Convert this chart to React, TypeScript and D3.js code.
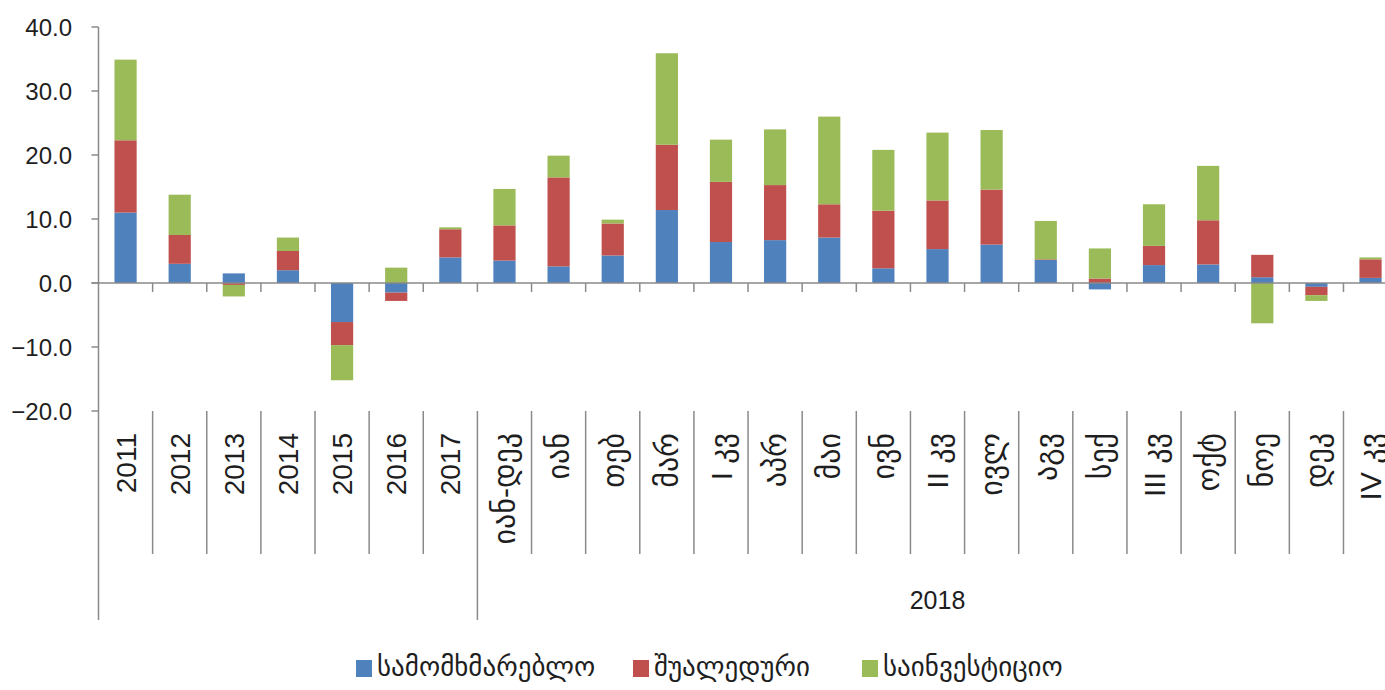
import React from "react";
import * as d3 from "d3";

// Contributions to growth by component (percentage points)
const categories = [
  "2011", "2012", "2013", "2014", "2015", "2016", "2017",
  "იან-დეკ", "იან", "თებ", "მარ", "I კვ", "აპრ", "მაი", "ივნ", "II კვ",
  "ივლ", "აგვ", "სექ", "III კვ", "ოქტ", "ნოე", "დეკ", "IV კვ",
];

const seriesNames = ["სამომხმარებლო", "შუალედური", "საინვესტიციო"];
const seriesColors = ["#4F81BD", "#C0504D", "#9BBB59"];

const consumer = [
  11.0, 3.0, 1.5, 2.0, -6.1, -1.5, 4.0,
  3.5, 2.6, 4.3, 11.4, 6.4, 6.7, 7.1, 2.3, 5.3,
  6.0, 3.6, -1.0, 2.8, 2.9, 0.9, -0.6, 0.8,
];
const intermediate = [
  11.3, 4.5, -0.3, 3.0, -3.6, -1.3, 4.4,
  5.5, 13.9, 5.0, 10.2, 9.4, 8.6, 5.2, 9.0, 7.6,
  8.6, 0.1, 0.7, 3.0, 6.9, 3.5, -1.3, 2.9,
];
const investment = [
  12.6, 6.3, -1.8, 2.1, -5.5, 2.4, 0.3,
  5.7, 3.4, 0.6, 14.3, 6.6, 8.7, 13.7, 9.5, 10.6,
  9.3, 6.0, 4.7, 6.5, 8.5, -6.3, -0.9, 0.3,
];

const yTicks = [-20, -10, 0, 10, 20, 30, 40];

// Category groups shown on the second row of the axis
const groups = [
  { label: "", from: 0, to: 7 },
  { label: "2018", from: 7, to: 24 },
];

const W = 1385;
const H = 690;
const FONT = "'Liberation Sans', Arial, 'DejaVu Sans', sans-serif";
const AXIS = "#8a8a8a";

export default function App() {
  const x0 = 98.5;
  const x1 = 1397.6;
  const yTop = 27;
  const yBottom = 411;

  const xBand = d3
    .scaleBand<string>()
    .domain(categories)
    .range([x0, x1])
    .paddingInner(0.59)
    .paddingOuter(0.295);
  const step = xBand.step();
  const boundary = (i: number) => x0 + i * step;

  const y = d3.scaleLinear().domain([-20, 40]).range([yBottom, yTop]);

  const rows = categories.map((c, i) => ({
    cat: c,
    s0: consumer[i],
    s1: intermediate[i],
    s2: investment[i],
  }));
  const stacked = d3
    .stack<any>()
    .keys(["s0", "s1", "s2"])
    .offset(d3.stackOffsetDiverging)(rows);

  const zeroY = y(0);
  const labelTop = 433;
  const sepBottom = 554;
  const groupBottom = 620;

  const legendItems = [
    { x: 356, idx: 0 },
    { x: 633, idx: 1 },
    { x: 862, idx: 2 },
  ];

  // Year labels are pure digits; month/quarter labels use Georgian glyphs
  const isYear = (s: string) => /^[0-9]+$/.test(s);

  return (
    <svg
      width={W}
      height={H}
      style={{ position: "absolute", left: 0, top: 0, background: "#fff" }}
      fontFamily={FONT}
    >
      {/* stacked bars */}
      {stacked.map((layer, si) => (
        <g key={si} fill={seriesColors[si]}>
          {layer.map((d, i) => {
            const top = y(Math.max(d[0], d[1]));
            const bot = y(Math.min(d[0], d[1]));
            if (bot - top < 0.01) return null;
            return (
              <rect
                key={i}
                x={xBand(categories[i])}
                y={top}
                width={xBand.bandwidth()}
                height={bot - top}
              />
            );
          })}
        </g>
      ))}

      {/* value axis */}
      <line x1={x0} x2={x0} y1={yTop} y2={groupBottom} stroke={AXIS} strokeWidth={1.5} />
      {yTicks.map((t) => (
        <g key={t}>
          <line x1={x0 - 7} x2={x0} y1={y(t)} y2={y(t)} stroke={AXIS} strokeWidth={1.5} />
          <text
            x={72}
            y={y(t)}
            dy="0.36em"
            textAnchor="end"
            fontSize={24}
            fill="#1e1e1e"
          >
            {d3.format(".1f")(t)}
          </text>
        </g>
      ))}

      {/* category axis at zero */}
      <line x1={x0 - 7} x2={x1} y1={zeroY} y2={zeroY} stroke={AXIS} strokeWidth={1.5} />
      {d3.range(1, categories.length + 1).map((i) => (
        <line
          key={i}
          x1={boundary(i)}
          x2={boundary(i)}
          y1={zeroY}
          y2={zeroY + 9}
          stroke={AXIS}
          strokeWidth={1.5}
        />
      ))}

      {/* category label separators */}
      {d3.range(1, categories.length + 1).map((i) => {
        const isGroupEdge = groups.some((g) => g.from === i || g.to === i);
        return (
          <line
            key={i}
            x1={boundary(i)}
            x2={boundary(i)}
            y1={yBottom}
            y2={isGroupEdge ? groupBottom : sepBottom}
            stroke={AXIS}
            strokeWidth={1.5}
          />
        );
      })}

      {/* category labels */}
      {categories.map((c, i) => {
        const cx = boundary(i) + step / 2;
        return (
          <text
            key={c}
            transform={`translate(${cx},${labelTop}) rotate(-90)`}
            textAnchor="end"
            dy="0.36em"
            fontSize={isYear(c) ? 28 : 30}
            fill="#1e1e1e"
          >
            {c}
          </text>
        );
      })}

      {/* group labels */}
      {groups.map((g) =>
        g.label ? (
          <text
            key={g.label}
            x={(boundary(g.from) + boundary(g.to)) / 2}
            y={609}
            textAnchor="middle"
            fontSize={25}
            fill="#1e1e1e"
          >
            {g.label}
          </text>
        ) : null
      )}

      {/* legend */}
      {legendItems.map((it) => (
        <g key={it.idx}>
          <rect x={it.x} y={660} width={16} height={17} fill={seriesColors[it.idx]} />
          <text x={it.x + 21} y={676} fontSize={27} fill="#1e1e1e">
            {seriesNames[it.idx]}
          </text>
        </g>
      ))}
    </svg>
  );
}
